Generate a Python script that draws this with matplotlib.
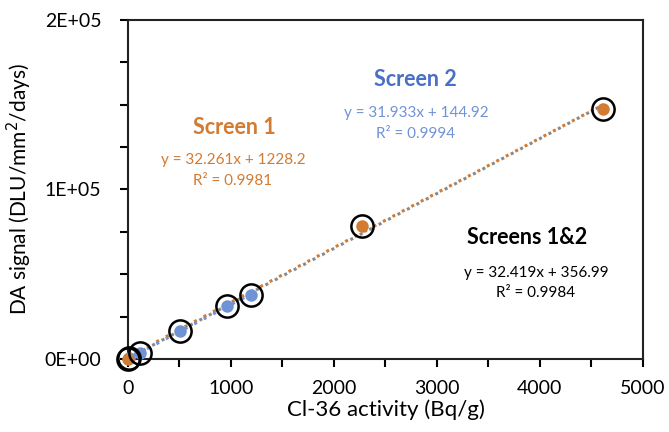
import matplotlib
matplotlib.use('Agg')
from matplotlib import pyplot as plt
from matplotlib.ticker import MultipleLocator, FuncFormatter
import numpy as np

# Screen 1 (orange) and screen 2 (blue) calibration points
s1_activity = [0, 2270, 4612]
s1_signal = [0, 78500, 147500]
s2_activity = [10, 117, 505, 961, 1194]
s2_signal = [300, 3540, 16500, 31300, 37800]

# trendline coefficients (slope, intercept) as fitted in the spreadsheet
fit_s1 = (32.261, 1228.2)
fit_s2 = (31.933, 144.92)
fit_all = (32.419, 356.99)

orange = '#D27B33'
blue = '#7093D6'
plt.rcParams['font.family'] = ['Lato', 'DejaVu Sans']

fig = plt.figure(figsize=(6.69, 4.32), dpi=100)
ax = fig.add_axes([0.1913, 0.169, 0.7697, 0.7847])

# dotted trendlines
xa = np.array([0, max(s1_activity)])
ax.plot(xa, fit_all[0] * xa + fit_all[1], ls=(1.5, (1, 2.5)), color='#8a8a8a', lw=2.2, zorder=2)
ax.plot(xa, fit_s1[0] * xa + fit_s1[1], ls=(0, (1, 2.5)), color=orange, lw=2.2, zorder=2)
xb = np.array([0, max(s2_activity)])
ax.plot(xb, fit_s2[0] * xb + fit_s2[1], ls=(0, (1, 2.5)), color=blue, lw=2.2, zorder=2)

ax.plot(s2_activity, s2_signal, 'o', color=blue, ms=9, mec='none', zorder=3, clip_on=False)
ax.plot(s1_activity, s1_signal, 'o', color=orange, ms=9, mec='none', zorder=3, clip_on=False)
allx = s1_activity + s2_activity
ally = s1_signal + s2_signal
ax.plot(allx, ally, 'o', mfc='none', mec='black', ms=16, mew=1.8, zorder=4, clip_on=False)

ax.set_xlim(0, 5000)
ax.set_ylim(0, 200000)
ax.xaxis.set_major_locator(MultipleLocator(1000))
ax.xaxis.set_minor_locator(MultipleLocator(500))
ax.yaxis.set_major_locator(MultipleLocator(100000))
ax.yaxis.set_minor_locator(MultipleLocator(25000))
ax.yaxis.set_major_formatter(FuncFormatter(lambda v, p: '%dE+%02d' % (round(v / 1e5), 5 if v else 0)))
ax.tick_params(which='both', direction='out', length=6, width=1.5, colors='black', labelsize=14)
ax.tick_params(axis='x', pad=9)
ax.tick_params(axis='y', pad=13)
for s in ax.spines.values():
    s.set_linewidth(1.5)
    s.set_color('#222222')

ax.set_xlabel('Cl-36 activity (Bq/g)', fontsize=16, labelpad=2)
ax.set_ylabel('DA signal (DLU/mm$^2$/days)', fontsize=15, labelpad=8)

def px(x, y):
    return fig.transFigure.inverted().transform(fig.dpi_scale_trans.transform((x / 100, (432 - y) / 100)))

def label(x, y, s, color, size, bold=False):
    fx, fy = px(x, y)
    fig.text(fx, fy, s, color=color, fontsize=size, ha='center', va='center',
             fontweight='bold' if bold else 'normal')

label(234, 128, 'Screen 1', orange, 15.5, True)
label(233, 160, 'y = 32.261x + 1228.2', orange, 11)
label(233, 181, 'R² = 0.9981', orange, 11)
label(415, 79, 'Screen 2', '#4a6fc7', 15.5, True)
label(416, 113, 'y = 31.933x + 144.92', blue, 11)
label(416, 134, 'R² = 0.9994', blue, 11)
label(527, 238, 'Screens 1&2', 'black', 15.5, True)
label(536, 273, 'y = 32.419x + 356.99', 'black', 11)
label(536, 293, 'R² = 0.9984', 'black', 11)

fig.savefig('out.png', dpi=100)
